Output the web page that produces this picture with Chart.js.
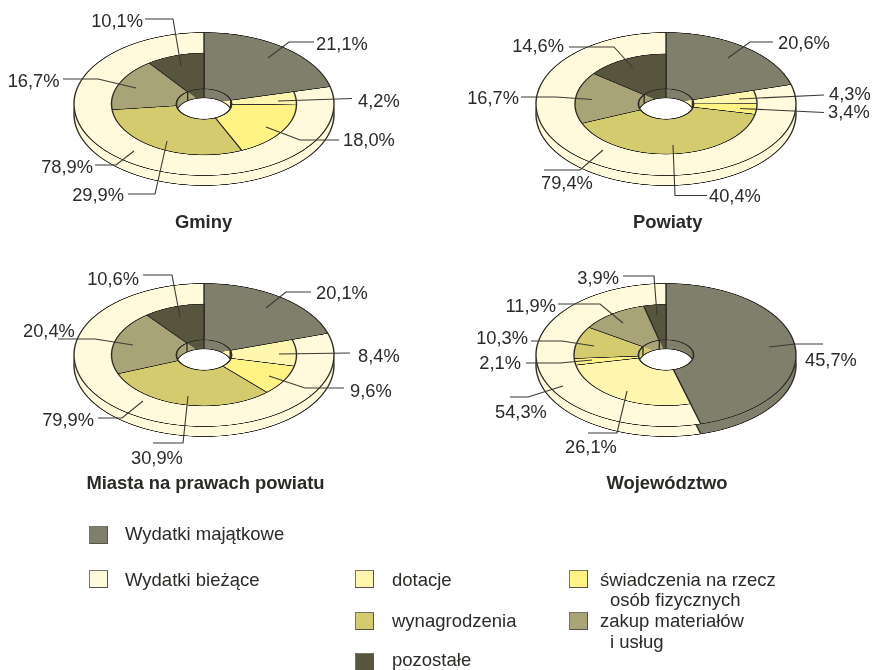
<!DOCTYPE html>
<html lang="pl">
<head>
<meta charset="utf-8">
<title>Wydatki</title>
<script src="https://cdn.jsdelivr.net/npm/chart.js@4"></script>
<style>
  html, body { margin: 0; background: #fff; }
  #page { position: relative; width: 873px; height: 670px; overflow: hidden; font-family: "Liberation Sans", Arial, sans-serif; color: #2b2a27; }
  #page canvas { position: absolute; }
  #overlay { position: absolute; left: 0; top: 0; }
  .swatch { position: absolute; width: 17px; height: 16px; border: 1px solid #77746a; border-right-color: #55534a; border-bottom-color: #55534a; }
  .legend-text { position: absolute; font-size: 18.5px; line-height: 20px; white-space: nowrap; }
</style>
</head>
<body>
<div id="page">
  <svg id="overlay" width="873" height="670"></svg>
</div>
<script>
const outerCategories = ["Wydatki majątkowe", "Wydatki bieżące"];
const innerCategories = ["Wydatki majątkowe", "dotacje", "świadczenia na rzecz osób fizycznych", "wynagrodzenia", "zakup materiałów i usług", "pozostałe"];

const gminyOuter = [21.1, 78.9];
const gminyInner = [21.1, 4.2, 18.0, 29.9, 16.7, 10.1];
const powiatyOuter = [20.6, 79.4];
const powiatyInner = [20.6, 4.3, 3.4, 40.4, 16.7, 14.6];
const miastaOuter = [20.1, 79.9];
const miastaInner = [20.1, 8.4, 9.6, 30.9, 20.4, 10.6];
const wojOuter = [45.7, 54.3];
const wojInner = [45.7, 26.1, 2.1, 10.3, 11.9, 3.9];

const grey = "#807f6c";
const cream = "#fefadb";
const outerColors = [grey, cream];
const innerColors = [grey, "#fef6ae", "#fff385", "#d4cb6f", "#a9a477", "#58553f"];
const lineColor = "#2e2d28";
const squash = 0.55;
const depth = 10;
const holeDepth = 9;

// label text comes from the arrays above, the rest is just where the callout sits
const panels = [
  { title: "Gminy", cx: 203.5, cy: 103.5, tx: 203.5, ty: 222, outer: gminyOuter, inner: gminyInner, r: 130, ri: 92.5, callouts: [
    { v: gminyInner[5], x: 143, y: 20, a: "end", pts: [[145, 19], [173, 19], [181, 66]] },
    { v: gminyOuter[0], x: 316, y: 43, a: "start", pts: [[314, 42], [289, 42], [268, 58]] },
    { v: gminyInner[1], x: 358, y: 100, a: "start", pts: [[352, 98.5], [278, 101]] },
    { v: gminyInner[2], x: 343, y: 139, a: "start", pts: [[339, 140], [300, 140], [266, 127]] },
    { v: gminyInner[4], x: 59.5, y: 80, a: "end", pts: [[63, 79], [98, 79], [136, 88]] },
    { v: gminyOuter[1], x: 93, y: 166, a: "end", pts: [[95, 165], [116, 165], [134, 151]] },
    { v: gminyInner[3], x: 124, y: 194, a: "end", pts: [[128, 194], [155, 194], [167, 141]] }
  ] },
  { title: "Powiaty", cx: 665.7, cy: 103.5, tx: 667.7, ty: 222, outer: powiatyOuter, inner: powiatyInner, r: 130, ri: 91, callouts: [
    { v: powiatyInner[5], x: 564, y: 45, a: "end", pts: [[569, 47], [614, 47], [633, 68]] },
    { v: powiatyOuter[0], x: 778, y: 42, a: "start", pts: [[773, 42], [750, 42], [728, 58]] },
    { v: powiatyInner[1], x: 829, y: 93, a: "start", pts: [[824, 95], [739, 99]] },
    { v: powiatyInner[2], x: 828, y: 111, a: "start", pts: [[824, 112.5], [740, 108.5]] },
    { v: powiatyInner[4], x: 519, y: 97, a: "end", pts: [[521, 97], [556, 97], [592, 99.5]] },
    { v: powiatyOuter[1], x: 541, y: 182, a: "start", pts: [[544, 170], [580, 170], [603, 150]] },
    { v: powiatyInner[3], x: 709, y: 195, a: "start", pts: [[707, 195.5], [675, 195.5], [673, 145]] }
  ] },
  { title: "Miasta na prawach powiatu", cx: 203.7, cy: 354.8, tx: 205.5, ty: 483, outer: miastaOuter, inner: miastaInner, r: 130, ri: 92.5, callouts: [
    { v: miastaInner[5], x: 139, y: 278, a: "end", pts: [[143, 275], [172, 275], [180, 317]] },
    { v: miastaOuter[0], x: 316, y: 292, a: "start", pts: [[311, 292], [286, 292], [266, 308]] },
    { v: miastaInner[1], x: 358, y: 355, a: "start", pts: [[350, 353], [279, 354]] },
    { v: miastaInner[2], x: 350, y: 390, a: "start", pts: [[344, 388], [305, 388], [269, 376]] },
    { v: miastaInner[4], x: 23, y: 330, a: "start", pts: [[58, 339], [95, 339], [133, 345]] },
    { v: miastaOuter[1], x: 94, y: 419, a: "end", pts: [[98, 418], [122, 418], [143, 401]] },
    { v: miastaInner[3], x: 131, y: 457, a: "start", pts: [[153, 443], [183, 443], [188, 396]] }
  ] },
  { title: "Województwo", cx: 665.5, cy: 354.8, tx: 667, ty: 483, outer: wojOuter, inner: wojInner, r: 130, ri: 92, callouts: [
    { v: wojInner[5], x: 619, y: 277, a: "end", pts: [[623, 276], [654, 276], [657, 315]] },
    { v: wojInner[4], x: 556, y: 305, a: "end", pts: [[558, 304], [600, 304], [623, 323]] },
    { v: wojInner[3], x: 528, y: 337, a: "end", pts: [[531, 341], [562, 341], [594, 346]] },
    { v: wojInner[2], x: 521, y: 362, a: "end", pts: [[526, 363], [560, 363], [592, 360]] },
    { v: wojOuter[1], x: 495, y: 411, a: "start", pts: [[510, 397], [528, 397], [563, 386]] },
    { v: wojInner[1], x: 565, y: 446, a: "start", pts: [[588, 433], [617, 433], [627, 391]] },
    { v: wojOuter[0], x: 805, y: 359, a: "start", pts: [[823, 344], [795, 344], [769, 347]] }
  ] }
];

const legendRows = [
  { color: grey, x: 89, y: 526, tx: 125, lines: [["Wydatki majątkowe", 0, 534]] },
  { color: cream, x: 89, y: 570, tx: 125, lines: [["Wydatki bieżące", 0, 580]] },
  { color: innerColors[1], x: 355, y: 570, tx: 392, lines: [["dotacje", 0, 580]] },
  { color: innerColors[3], x: 355, y: 612, tx: 392, lines: [["wynagrodzenia", 0, 621]] },
  { color: innerColors[5], x: 355, y: 653, tx: 392, lines: [["pozostałe", 0, 660]] },
  { color: innerColors[2], x: 569, y: 570, tx: 600, lines: [["świadczenia na rzecz", 0, 580], ["osób fizycznych", 10, 600]] },
  { color: innerColors[4], x: 569, y: 612, tx: 600, lines: [["zakup materiałów", 0, 621], ["i usług", 10, 642]] }
];

const page = document.getElementById("page");
const overlay = document.getElementById("overlay");
const svgNs = "http://www.w3.org/2000/svg";
const size = 300;

// wall and white opening of the hole, on top of the small pie
const holePlugin = {
  id: "holePlugin",
  afterDatasetsDraw(chart) {
    const arcs = chart.getDatasetMeta(0).data;
    const { x, y, outerRadius: r } = arcs[0];
    const drop = holeDepth / squash;
    const ctx = chart.ctx;
    ctx.save();
    ctx.strokeStyle = lineColor;
    ctx.lineWidth = 1.4;
    ctx.beginPath();
    ctx.arc(x, y, r, 0, Math.PI * 2);
    ctx.clip();
    arcs.forEach(arc => {
      const px = x + r * Math.cos(arc.startAngle);
      const py = y + r * Math.sin(arc.startAngle);
      ctx.beginPath();
      ctx.moveTo(px, py);
      ctx.lineTo(px, py + drop);
      ctx.stroke();
    });
    ctx.beginPath();
    ctx.arc(x, y + drop, r, 0, Math.PI * 2);
    ctx.fillStyle = "#fff";
    ctx.fill();
    ctx.stroke();
    ctx.restore();
    ctx.save();
    ctx.strokeStyle = lineColor;
    ctx.lineWidth = 1.6;
    ctx.beginPath();
    ctx.arc(x, y, r, 0, Math.PI * 2);
    ctx.stroke();
    ctx.restore();
  }
};

function addLayer(cx, cy, type, dataset, labels, radius, cutout, plugins) {
  const canvas = document.createElement("canvas");
  canvas.width = size;
  canvas.height = size;
  canvas.style.left = (cx - size / 2) + "px";
  canvas.style.top = (cy - size / 2) + "px";
  canvas.style.width = size + "px";
  canvas.style.height = size + "px";
  canvas.style.transform = "scaleY(" + squash + ")";
  page.insertBefore(canvas, overlay);
  new Chart(canvas, {
    type: type,
    data: { labels: labels, datasets: [dataset] },
    plugins: plugins || [],
    options: {
      responsive: false,
      animation: false,
      devicePixelRatio: 2,
      events: [],
      radius: radius,
      cutout: cutout,
      plugins: { legend: { display: false }, tooltip: { enabled: false } }
    }
  });
}

function addSvg(tag, attrs, text) {
  const el = document.createElementNS(svgNs, tag);
  Object.keys(attrs).forEach(k => el.setAttribute(k, attrs[k]));
  if (text) el.textContent = text;
  overlay.appendChild(el);
}

panels.forEach(p => {
  const outerSet = { data: p.outer, backgroundColor: outerColors, borderColor: lineColor, borderWidth: 1.4 };
  // side of the disc, then the disc itself
  addLayer(p.cx, p.cy + depth, "pie", outerSet, outerCategories, p.r, 0);
  addLayer(p.cx, p.cy, "pie", outerSet, outerCategories, p.r, 0);
  // inner ring, the capital slice stays see-through so the grey has no seam
  addLayer(p.cx, p.cy, "doughnut", {
    data: p.inner,
    backgroundColor: innerColors.map((c, i) => i === 0 ? "transparent" : c),
    borderColor: innerColors.map((c, i) => i === 0 ? "transparent" : lineColor),
    borderWidth: 1.4
  }, innerCategories, p.ri, (27.5 / p.ri * 100) + "%");
  addLayer(p.cx, p.cy, "pie", { data: p.inner, backgroundColor: innerColors, borderWidth: 0 }, innerCategories, 27.5, 0, [holePlugin]);

  p.callouts.forEach(c => {
    addSvg("polyline", { points: c.pts.map(pt => pt.join(",")).join(" "), fill: "none", stroke: "#3a3a33", "stroke-width": 1.1 });
    addSvg("text", { x: c.x, y: c.y + 6.5, "text-anchor": c.a, "font-size": 18.3, fill: "#2b2a27" }, c.v.toFixed(1).replace(".", ",") + "%");
  });
  addSvg("text", { x: p.tx, y: p.ty + 6, "text-anchor": "middle", "font-size": 18.4, "font-weight": "bold", fill: "#2b2a27" }, p.title);
});

legendRows.forEach(row => {
  const box = document.createElement("div");
  box.className = "swatch";
  box.style.left = row.x + "px";
  box.style.top = row.y + "px";
  box.style.background = row.color;
  page.appendChild(box);
  row.lines.forEach(line => {
    const label = document.createElement("div");
    label.className = "legend-text";
    label.textContent = line[0];
    label.style.left = (row.tx + line[1]) + "px";
    label.style.top = (line[2] - 10) + "px";
    page.appendChild(label);
  });
});
</script>
</body>
</html>
